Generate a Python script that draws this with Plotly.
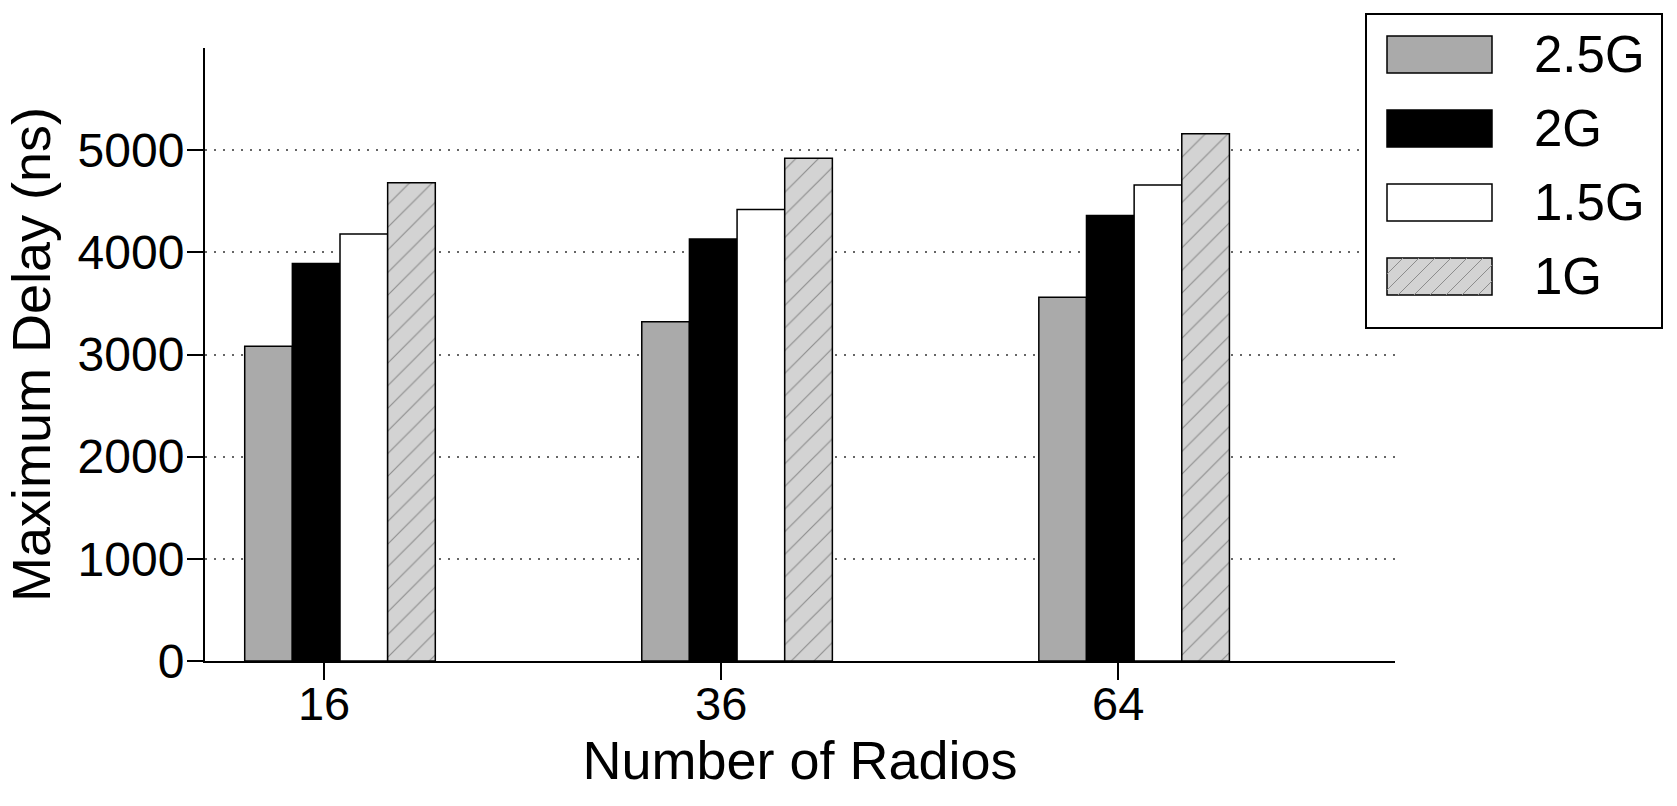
import plotly.graph_objects as go

# ---- data ----
radios = ["16", "36", "64"]
series_names = ["2.5G", "2G", "1.5G", "1G"]
delay_25g = [3080, 3320, 3560]
delay_2g = [3890, 4130, 4360]
delay_15g = [4180, 4420, 4660]
delay_1g = [4680, 4920, 5160]
y_ticks = [0, 1000, 2000, 3000, 4000, 5000]

series_values = [delay_25g, delay_2g, delay_15g, delay_1g]

# ---- styles ----
W, H = 1677, 806
L, R, T, B = 205, 1395, 48, 661  # plot area in pixels
FONT = "Liberation Sans, Arial, Helvetica, sans-serif"
fills = ["#aaaaaa", "#000000", "#ffffff", "#d3d3d3"]
hatch = [False, False, False, True]
TICK_SHIFT = -0.04

positions = list(range(len(radios)))

fig = go.Figure()
for name, vals, col, h in zip(series_names, series_values, fills, hatch):
    marker = dict(color=col, line=dict(color="black", width=1.5))
    if h:
        marker["pattern"] = dict(shape="/", size=16, solidity=0.07,
                                 fgcolor="#8c8c8c", bgcolor=col, fillmode="replace")
    fig.add_trace(go.Bar(x=positions, y=vals, name=name, marker=marker,
                         showlegend=False))

# ---- custom legend (paper coords from pixels) ----
def px(x):
    return (x - L) / (R - L)

def py(y):
    return (B - y) / (B - T)

shapes = []
annotations = []
shapes.append(dict(type="rect", xref="paper", yref="paper",
                   x0=px(1366), x1=px(1662), y0=py(328), y1=py(14),
                   line=dict(color="black", width=2), fillcolor="white", layer="above"))
sw_x0, sw_x1 = 1387, 1492
sw_h = 37
for i, (name, col, h) in enumerate(zip(series_names, fills, hatch)):
    top = 36 + i * 74
    bot = top + sw_h
    shapes.append(dict(type="rect", xref="paper", yref="paper",
                       x0=px(sw_x0), x1=px(sw_x1), y0=py(bot), y1=py(top),
                       line=dict(color="black", width=1.5), fillcolor=col, layer="above"))
    if h:
        step = 16
        xs = sw_x0 - sw_h
        while xs < sw_x1:
            ax, ay = xs, bot
            bx, by = xs + sw_h, top
            if ax < sw_x0:
                d = sw_x0 - ax
                ax, ay = sw_x0, bot - d
            if bx > sw_x1:
                d = bx - sw_x1
                bx, by = sw_x1, top + d
            if bx > ax:
                shapes.append(dict(type="line", xref="paper", yref="paper",
                                   x0=px(ax), y0=py(ay), x1=px(bx), y1=py(by),
                                   line=dict(color="#8c8c8c", width=1), layer="above"))
            xs += step
    annotations.append(dict(xref="paper", yref="paper", x=px(1532), y=py((top + bot) / 2),
                            text=name, showarrow=False, xanchor="left", yanchor="middle",
                            font=dict(family=FONT, size=51, color="black")))

fig.update_layout(
    width=W, height=H,
    margin=dict(l=L, r=W - R, t=T, b=H - B, pad=0),
    paper_bgcolor="white", plot_bgcolor="white",
    barmode="group", bargap=0.52, bargroupgap=0,
    font=dict(family=FONT, color="black"),
    shapes=shapes, annotations=annotations,
    showlegend=False,
)
fig.update_xaxes(
    range=[-0.34, 2.657], tickmode="array",
    tickvals=[p + TICK_SHIFT for p in positions], ticktext=radios,
    ticks="outside", ticklen=17, tickwidth=1.5, tickcolor="black",
    showline=True, linecolor="black", linewidth=2,
    showgrid=False, zeroline=False, ticklabelstandoff=-16,
    tickfont=dict(family=FONT, size=47, color="black"),
    title=dict(text="Number of Radios", font=dict(family=FONT, size=54, color="black"),
               standoff=4),
)
fig.update_yaxes(
    range=[0, 6000], tickmode="array", tickvals=y_ticks,
    ticks="outside", ticklen=16, tickwidth=2, tickcolor="black",
    showline=True, linecolor="black", linewidth=2,
    showgrid=True, gridcolor="#666666", griddash="2px,7px", gridwidth=1.5,
    zeroline=False, ticklabelstandoff=-7,
    tickfont=dict(family=FONT, size=48, color="black"),
    title=dict(text="Maximum Delay (ns)", font=dict(family=FONT, size=54, color="black"),
               standoff=10),
)

fig.write_html("out.html")
